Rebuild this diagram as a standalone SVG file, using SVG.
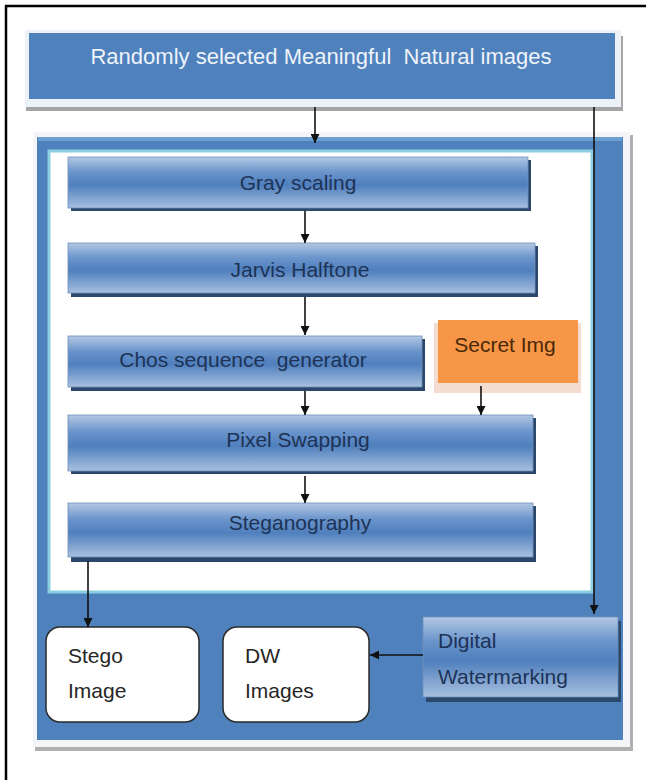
<svg xmlns="http://www.w3.org/2000/svg" width="646" height="780" viewBox="0 0 646 780">
<defs>
<linearGradient id="pg" x1="0" y1="0" x2="0" y2="1">
<stop offset="0" stop-color="#b3c8e4"/>
<stop offset="0.3" stop-color="#6a94cb"/>
<stop offset="0.55" stop-color="#4f7fbd"/>
<stop offset="1" stop-color="#a8c0e0"/>
</linearGradient>
<marker id="ah" viewBox="0 0 10 10" refX="10" refY="5" markerWidth="9" markerHeight="9" markerUnits="userSpaceOnUse" orient="auto">
<path d="M0,0 L10,5 L0,10 z" fill="#111"/>
</marker>
<style>
.proc{fill:url(#pg);stroke:#6f8fb8;stroke-width:0.8}
.shd{fill:#2c476c}
.pt{font-family:"Liberation Sans",Arial,sans-serif;font-size:21px;fill:#1d3356;text-anchor:middle}
.lt{font-family:"Liberation Sans",Arial,sans-serif;font-size:21px;fill:#262626}
.out{fill:#ffffff;stroke:#2a2a2a;stroke-width:1.5}
.cn{stroke:#111;stroke-width:1.6;fill:none;marker-end:url(#ah)}
</style>
</defs>
<rect width="646" height="780" fill="#ffffff"/>
<path d="M6,782 V6 H646" fill="none" stroke="#000" stroke-width="2.5"/>

<g id="top">
<rect x="26" y="36" width="597" height="75" fill="#a5a5a5"/>
<rect x="25" y="30" width="596" height="77" fill="#edf2f8"/>
<rect x="29" y="33" width="586" height="66" fill="#4f81bd"/>
<text x="321" y="64" xml:space="preserve" style="font-family:'Liberation Sans',Arial,sans-serif;font-size:22px;fill:#eef3fa;text-anchor:middle">Randomly selected Meaningful  Natural images</text>
</g>

<g id="frame">
<rect x="35" y="135" width="598" height="616" fill="#b0b0b0"/>
<rect x="33" y="132" width="597" height="615" fill="#f3f5f8"/>
<rect x="37" y="137" width="586" height="603" fill="#4f81bd"/>
<rect x="38" y="137" width="584" height="4" fill="#6aa0cf"/>
<rect x="49" y="151" width="543" height="441" fill="#ffffff" stroke="#8ad0e0" stroke-width="3"/>
</g>

<g id="gray">
<rect class="shd" x="71" y="160" width="460" height="51"/>
<rect class="proc" x="68" y="157" width="460" height="51"/>
<text class="pt" x="298" y="190">Gray scaling</text>
</g>
<g id="jarvis">
<rect class="shd" x="71" y="246" width="467" height="51"/>
<rect class="proc" x="68" y="243" width="467" height="50"/>
<text class="pt" x="300" y="277">Jarvis Halftone</text>
</g>
<g id="chos">
<rect class="shd" x="71" y="339" width="354" height="52"/>
<rect class="proc" x="68" y="336" width="354" height="51"/>
<text class="pt" x="243" y="367" xml:space="preserve">Chos sequence  generator</text>
</g>
<g id="secret">
<rect x="434" y="323" width="147" height="70" fill="#f4ddd0"/>
<rect x="438" y="320" width="140" height="63" fill="#f79646"/>
<text x="505" y="352" style="font-family:'Liberation Sans',Arial,sans-serif;font-size:21px;fill:#4a2808;text-anchor:middle">Secret Img</text>
</g>
<g id="pixel">
<rect class="shd" x="71" y="418" width="465" height="56"/>
<rect class="proc" x="68" y="415" width="465" height="56"/>
<text class="pt" x="298" y="447">Pixel Swapping</text>
</g>
<g id="stegano">
<rect class="shd" x="71" y="506" width="465" height="56"/>
<rect class="proc" x="68" y="503" width="465" height="54"/>
<text class="pt" x="300" y="530">Steganography</text>
</g>

<g id="stego">
<rect class="out" x="46" y="627" width="153" height="95" rx="14"/>
<text class="lt" x="68" y="663">Stego</text>
<text class="lt" x="68" y="698">Image</text>
</g>
<g id="dw">
<rect class="out" x="223" y="627" width="146" height="95" rx="14"/>
<text class="lt" x="245" y="663">DW</text>
<text class="lt" x="245" y="698">Images</text>
</g>
<g id="watermark">
<rect class="shd" x="426" y="621" width="195" height="81"/>
<rect class="proc" x="423" y="617" width="195" height="80"/>
<text class="lt" x="438" y="648" style="fill:#1d3356">Digital</text>
<text class="lt" x="438" y="684" style="fill:#1d3356">Watermarking</text>
</g>

<g id="connectors">
<path class="cn" d="M315,107 V143"/>
<path class="cn" d="M594,107 V614"/>
<path class="cn" d="M305,211 V243"/>
<path class="cn" d="M305,297 V335"/>
<path class="cn" d="M305,391 V415"/>
<path class="cn" d="M481,386 V415"/>
<path class="cn" d="M305,476 V503"/>
<path class="cn" d="M88,561 V627"/>
<path class="cn" d="M423,655 H370"/>
</g>
</svg>
